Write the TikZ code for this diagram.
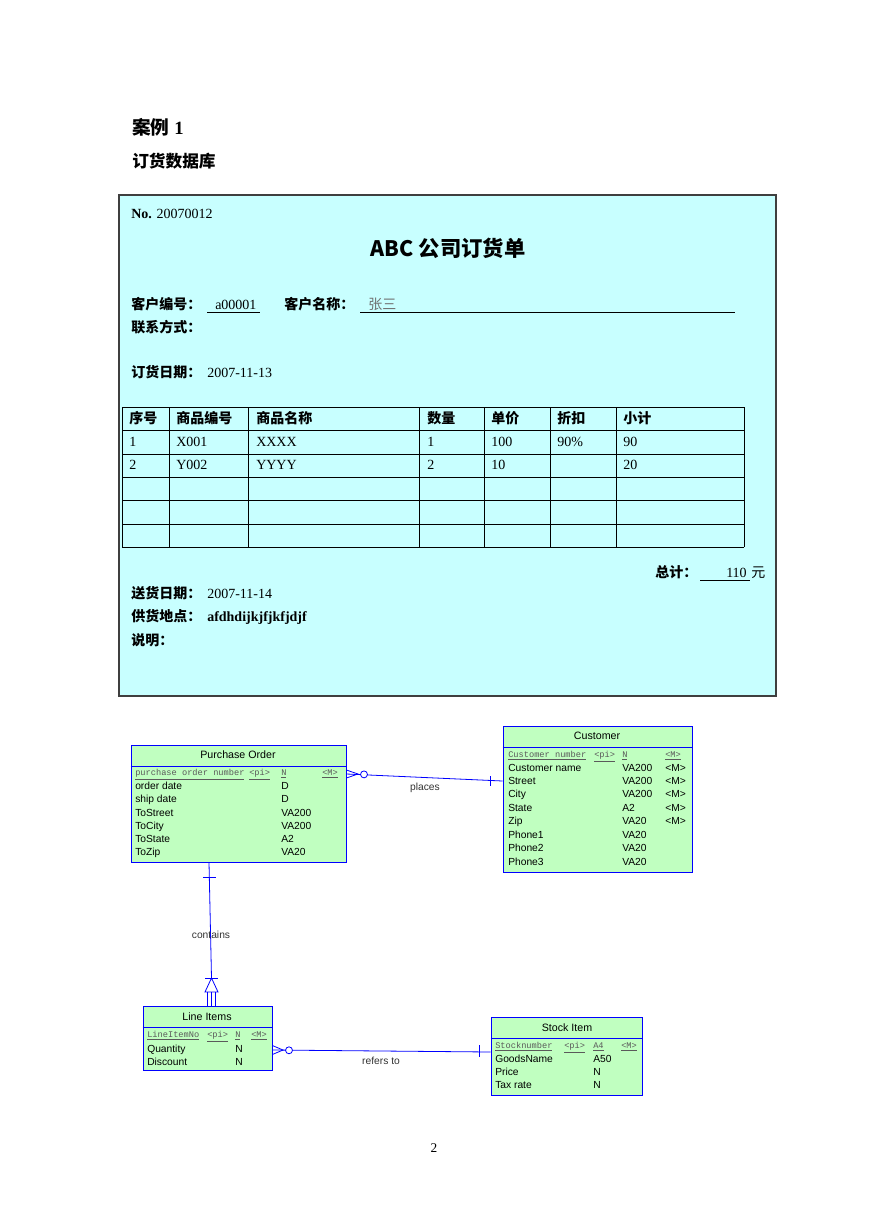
\documentclass[tikz,border=0pt]{standalone}
\usepackage{fontspec}
\setmainfont{Liberation Serif}
\newfontfamily\cjk{Noto Sans CJK SC}
\newfontfamily\ersf{Liberation Sans}
\newfontfamily\erkey{Liberation Mono}
\usepackage{xcolor}
\definecolor{cForm}{HTML}{C8FFFF}
\definecolor{cFormLine}{HTML}{3F3F3F}
\definecolor{cEnt}{HTML}{C0FFC0}
\definecolor{cEntLine}{HTML}{0000FF}
\definecolor{cKey}{HTML}{5A5A5A}
\definecolor{cLabel}{HTML}{333333}
\definecolor{cName}{HTML}{707070}
\usepackage{tikz}
\usetikzlibrary{fit,calc}
\tikzset{
  form-box/.style={draw=cFormLine,fill=cForm,inner sep=0pt,line width=0.8pt},
  form-text/.style={anchor=base west,inner sep=0pt,font=\fontsize{10.5}{12}\selectfont},
  form-zh/.style={form-text,font=\cjk\bfseries\fontsize{10.5}{12}\selectfont},
  form-grid/.style={draw=black,line width=0.7pt},
  form-rule/.style={draw=black,line width=0.6pt},
  ent-box/.style={draw=cEntLine,fill=cEnt,inner sep=0pt,line width=0.6pt},
  ent-title/.style={inner sep=0pt,font=\ersf\fontsize{8}{9}\selectfont},
  ent-text/.style={anchor=base west,inner sep=0pt,font=\ersf\fontsize{7.7}{9}\selectfont},
  ent-key/.style={anchor=base west,inner sep=0pt,text=cKey,font=\erkey\fontsize{6.5}{8}\selectfont},
  er-line/.style={draw=cEntLine,line width=0.6pt},
  er-label/.style={inner sep=0pt,text=cLabel,font=\ersf\fontsize{7.7}{9}\selectfont},
}

\begin{document}
\begin{tikzpicture}[x=0.75pt,y=-0.75pt]
  \useasboundingbox (0,0) rectangle (869,1228);

  % headings
  \node[anchor=base west,inner sep=0pt,font=\bfseries\fontsize{14}{16}\selectfont] (case) at (132,134)
    {{\cjk 案例} 1};
  \node[anchor=base west,inner sep=0pt,font=\cjk\bfseries\fontsize{12.5}{14}\selectfont] (db) at (132,167)
    {订货数据库};

  % order form
  \node[form-box,fit={(119,195) (776,696)}] (form) {};
  \node[form-text] (no) at (131,218) {\textbf{No.} 20070012};
  \node[anchor=base,inner sep=0pt,font=\cjk\bfseries\fontsize{16}{18}\selectfont] (title) at (448,256)
    {ABC 公司订货单};
  \node[form-zh] (cno-l) at (131,309) {客户编号：};
  \node[form-text] (cno) at (215,309) {a00001};
  \draw[form-rule] (207,312) -- (260,312);
  \node[form-zh] (cname-l) at (284,309) {客户名称：};
  \node[form-text,font=\cjk\fontsize{10.5}{12}\selectfont,text=cName] (cname) at (368,309) {张三};
  \draw[form-rule] (360,312) -- (735,312);
  \node[form-zh] (contact) at (131,332) {联系方式：};
  \node[form-zh] (odate-l) at (131,377) {订货日期：};
  \node[form-text] (odate) at (207,377) {2007-11-13};

  % items table
  \foreach \y in {407,430,454,477,500,524,547}
    \draw[form-grid] (122,\y) -- (744,\y);
  \foreach \x in {122,169,248,419,484,550,616,744}
    \draw[form-grid] (\x,407) -- (\x,547);
  \foreach \x/\t [count=\i] in {129/序号,176/商品编号,256/商品名称,427/数量,491/单价,557/折扣,623/小计}
    \node[form-zh] (hd\i) at (\x,423) {\t};
  \foreach \x/\a/\b [count=\i] in {129/1/2,176/X001/Y002,256/XXXX/YYYY,427/1/2,491/100/10,557/90\%/,623/90/20}{
    \node[form-text] (ra\i) at (\x,446) {\a};
    \node[form-text] (rb\i) at (\x,469) {\b};
  }

  \node[form-zh] (total-l) at (655,577) {总计：};
  \node[form-text,anchor=base east] (total) at (747,577) {110};
  \draw[form-rule] (700,580) -- (750,580);
  \node[form-text,font=\cjk\fontsize{10.5}{12}\selectfont] (yuan) at (751,577) {元};
  \node[form-zh] (sdate-l) at (131,598) {送货日期：};
  \node[form-text] (sdate) at (207,598) {2007-11-14};
  \node[form-zh] (place-l) at (131,621) {供货地点：};
  \node[form-text] (place) at (207,621) {\textbf{afdhdijkjfjkfjdjf}};
  \node[form-zh] (note) at (131,645) {说明：};

  % ER model
  \node[ent-box,fit={(131,745) (346,862)}] (po) {};
  \draw[er-line] (po.west |- 0,766) -- (po.east |- 0,766);
  \node[ent-title] (po-t) at (238,755) {Purchase Order};
  \node[ent-key] (po-k1) at (135,775.5) {\underline{purchase order number}};
  \node[ent-key] (po-k2) at (249,775.5) {\underline{<pi>}};
  \node[ent-key] (po-k3) at (281,775.5) {\underline{N}};
  \node[ent-key] (po-k4) at (322,775.5) {\underline{<M>}};
  \foreach \n/\t/\y [count=\i] in {order date/D/789,ship date/D/802,ToStreet/VA200/816,
      ToCity/VA200/829,ToState/A2/842,ToZip/VA20/855}{
    \node[ent-text] (po-n\i) at (135,\y) {\n};
    \node[ent-text] (po-d\i) at (281,\y) {\t};
  }

  \node[ent-box,fit={(503,726) (692,872)}] (cust) {};
  \draw[er-line] (cust.west |- 0,747) -- (cust.east |- 0,747);
  \node[ent-title] (cust-t) at (597,736) {Customer};
  \node[ent-key] (cust-k1) at (508,757.5) {\underline{Customer number}};
  \node[ent-key] (cust-k2) at (594,757.5) {\underline{<pi>}};
  \node[ent-key] (cust-k3) at (622,757.5) {\underline{N}};
  \node[ent-key] (cust-k4) at (665,757.5) {\underline{<M>}};
  \foreach \n/\t/\m/\y [count=\i] in {Customer name/VA200/<M>/771,Street/VA200/<M>/784,
      City/VA200/<M>/797,State/A2/<M>/811,Zip/VA20/<M>/824,Phone1/VA20//838,
      Phone2/VA20//851,Phone3/VA20//865}{
    \node[ent-text] (cust-n\i) at (508,\y) {\n};
    \node[ent-text] (cust-d\i) at (622,\y) {\t};
    \node[ent-text] (cust-m\i) at (665,\y) {\m};
  }

  \node[ent-box,fit={(143,1006) (272,1070)}] (li) {};
  \draw[er-line] (li.west |- 0,1027) -- (li.east |- 0,1027);
  \node[ent-title] (li-t) at (207,1017) {Line Items};
  \node[ent-key] (li-k1) at (147,1037.5) {\underline{LineItemNo}};
  \node[ent-key] (li-k2) at (207,1037.5) {\underline{<pi>}};
  \node[ent-key] (li-k3) at (235,1037.5) {\underline{N}};
  \node[ent-key] (li-k4) at (251,1037.5) {\underline{<M>}};
  \node[ent-text] (li-n1) at (147,1052) {Quantity};
  \node[ent-text] (li-d1) at (235,1052) {N};
  \node[ent-text] (li-n2) at (147,1065) {Discount};
  \node[ent-text] (li-d2) at (235,1065) {N};

  \node[ent-box,fit={(491,1017) (642,1095)}] (stock) {};
  \draw[er-line] (stock.west |- 0,1038) -- (stock.east |- 0,1038);
  \node[ent-title] (stock-t) at (567,1028) {Stock Item};
  \node[ent-key] (stock-k1) at (495,1048.5) {\underline{Stocknumber}};
  \node[ent-key] (stock-k2) at (564,1048.5) {\underline{<pi>}};
  \node[ent-key] (stock-k3) at (593,1048.5) {\underline{A4}};
  \node[ent-key] (stock-k4) at (621,1048.5) {\underline{<M>}};
  \foreach \n/\t/\y [count=\i] in {GoodsName/A50/1062,Price/N/1075,Tax rate/N/1088}{
    \node[ent-text] (stock-n\i) at (495,\y) {\n};
    \node[ent-text] (stock-d\i) at (593,\y) {\t};
  }

  % relationships
  \coordinate (places-a) at (po.east |- 0,774);
  \coordinate (places-b) at (cust.west |- 0,781);
  \draw[er-line] (places-a) -- (places-b);
  \draw[er-line] (po.east |- 0,770) -- (358,774) -- (po.east |- 0,778);
  \draw[er-line,fill=white] (364,774.4) circle[radius=2.6pt];
  \draw[er-line] (490,776) -- (490,786);
  \node[er-label] (places) at (425,788) {places};

  \coordinate (contains-a) at (po.south -| 209,0);
  \coordinate (contains-b) at (211.5,978);
  \draw[er-line] (contains-a) -- (contains-b);
  \draw[er-line] (203,877) -- (216,877);
  \draw[er-line] (205,978) -- (218,978);
  \draw[er-line] (contains-b) -- (205,992) -- (218,992) -- cycle;
  \foreach \x in {207.5,211.5,215.5}
    \draw[er-line] (\x,992) -- (li.north -| \x,0);
  \node[er-label] (contains) at (211,935) {contains};

  \coordinate (refers-a) at (li.east |- 0,1050);
  \coordinate (refers-b) at (stock.west |- 0,1052);
  \draw[er-line] (refers-a) -- (refers-b);
  \draw[er-line] (li.east |- 0,1045.5) -- (283,1050) -- (li.east |- 0,1054.5);
  \draw[er-line,fill=white] (289,1050.3) circle[radius=2.6pt];
  \draw[er-line] (479,1045) -- (479,1057);
  \node[er-label] (refers) at (381,1061) {refers to};

  \node[inner sep=0pt,font=\fontsize{10}{12}\selectfont] (page) at (434,1148) {2};
\end{tikzpicture}
\end{document}
